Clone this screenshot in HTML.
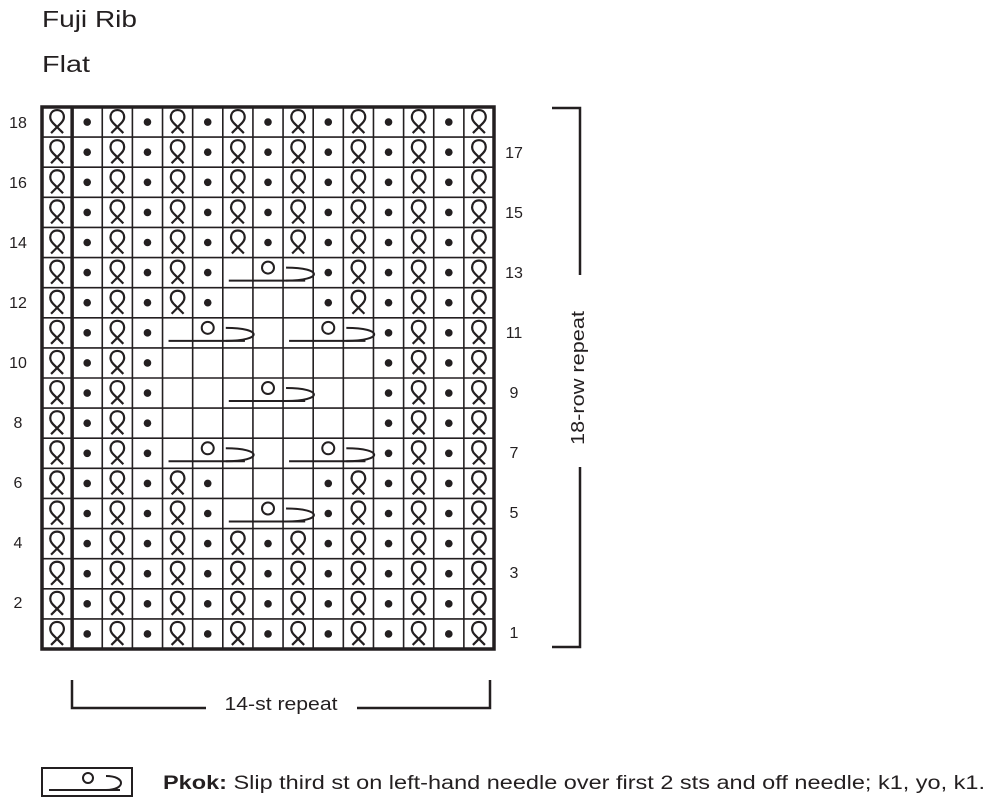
<!DOCTYPE html>
<html><head><meta charset="utf-8"><style>
body{margin:0;background:#fff;width:1000px;height:805px;overflow:hidden}
svg text{font-family:"Liberation Sans",sans-serif;fill:#231f20}
</style></head><body>
<svg id="s" width="1000" height="805" viewBox="0 0 1000 805" xmlns="http://www.w3.org/2000/svg">
<text x="42" y="27" font-size="23" textLength="95" lengthAdjust="spacingAndGlyphs">Fuji Rib</text>
<text x="42" y="72" font-size="23" textLength="48" lengthAdjust="spacingAndGlyphs">Flat</text>
<g font-size="16" text-anchor="middle">
<text x="18" y="128">18</text><text x="18" y="188">16</text><text x="18" y="248">14</text><text x="18" y="308">12</text><text x="18" y="368">10</text><text x="18" y="428">8</text><text x="18" y="488">6</text><text x="18" y="548">4</text><text x="18" y="608">2</text>
<text x="514" y="158">17</text><text x="514" y="218">15</text><text x="514" y="278">13</text><text x="514" y="338">11</text><text x="514" y="398">9</text><text x="514" y="458">7</text><text x="514" y="518">5</text><text x="514" y="578">3</text><text x="514" y="638">1</text>
</g>
<g stroke="#231f20" stroke-width="2.5" fill="none">
<polyline points="552,108 580,108 580,275"/>
<polyline points="580,467 580,647 552,647"/>
<polyline points="72,680 72,708 206,708"/>
<polyline points="357,708 490,708 490,680"/>
</g>
<text font-size="18" text-anchor="middle" textLength="134" lengthAdjust="spacingAndGlyphs" transform="translate(584,378) rotate(-90)">18-row repeat</text>
<text x="281" y="710" font-size="18" text-anchor="middle" textLength="113" lengthAdjust="spacingAndGlyphs">14-st repeat</text>
<rect x="42" y="768" width="90" height="28" fill="none" stroke="#231f20" stroke-width="2"/>
<g stroke="#231f20" stroke-width="2" fill="none">
<line x1="49" y1="790" x2="120" y2="790"/>
<circle cx="88" cy="778" r="5"/>
<path d="M106,776 C126,776 126,790 106,790"/>
</g>
<text x="163" y="789" font-size="19" textLength="822" lengthAdjust="spacingAndGlyphs"><tspan font-weight="bold">Pkok:</tspan> Slip third st on left-hand needle over first 2 sts and off needle; k1, yo, k1.</text>
<g id="grid"></g>
</svg>
<script>
const g=document.getElementById('grid');
const L=42,T=107,W=(494-42)/15,H=(649-107)/18;
let h='';
const full='QdQdQdQdQdQdQdQ';
const r5 ='QdQdQdPxxdQdQdQ';
const r6 ='QdQdQdbbbdQdQdQ';
const r7 ='QdQdPxxbPxxdQdQ';
const r8 ='QdQdbbbbbbbdQdQ';
const r9 ='QdQdbbPxxbbdQdQ';
const rows={1:full,2:full,3:full,4:full,5:r5,6:r6,7:r7,8:r8,9:r9,10:r8,11:r7,12:r6,13:r5,14:full,15:full,16:full,17:full,18:full};
for(let i=0;i<18;i++){
 const r=18-i, s=rows[r], y=T+i*H, cy=y+H/2;
 for(let c=0;c<15;c++){
  const x=L+c*W, cx=x+W/2, ch=s[c];
  if(ch=='Q'){h+=`<path d="M${cx-6},${cy+11} L${cx+4},${cy+1} C${cx+9},${cy-4} ${cx+7},${cy-12} ${cx},${cy-12} C${cx-7},${cy-12} ${cx-9},${cy-4} ${cx-4},${cy+1} L${cx+6},${cy+11}" stroke="#231f20" stroke-width="2.2" fill="none"/>`;}
  else if(ch=='d'){h+=`<circle cx="${cx}" cy="${cy}" r="3.8" fill="#231f20"/>`;}
  else if(ch=='P'){h+=`<line x1="${x+6}" y1="${cy+8}" x2="${x+3*W-8}" y2="${cy+8}" stroke="#231f20" stroke-width="2"/><circle cx="${x+W*1.5}" cy="${cy-5}" r="6" fill="none" stroke="#231f20" stroke-width="2"/><path d="M${x+2*W+3},${cy-5} C${x+3*W+10},${cy-5} ${x+3*W+10},${cy+8} ${x+2*W+3},${cy+8}" fill="none" stroke="#231f20" stroke-width="2"/>`;}
 }
}
for(let c=1;c<15;c++){const x=L+c*W;h+=`<line x1="${x}" y1="${T}" x2="${x}" y2="${T+18*H}" stroke="#231f20" stroke-width="${c==1?3.5:1.6}"/>`;}
for(let i=1;i<18;i++){const y=T+i*H;h+=`<line x1="${L}" y1="${y}" x2="${L+15*W}" y2="${y}" stroke="#231f20" stroke-width="1.6"/>`;}
h+=`<rect x="${L}" y="${T}" width="${15*W}" height="${18*H}" fill="none" stroke="#231f20" stroke-width="3.5"/>`;
g.innerHTML=h;
</script>
</body></html>
